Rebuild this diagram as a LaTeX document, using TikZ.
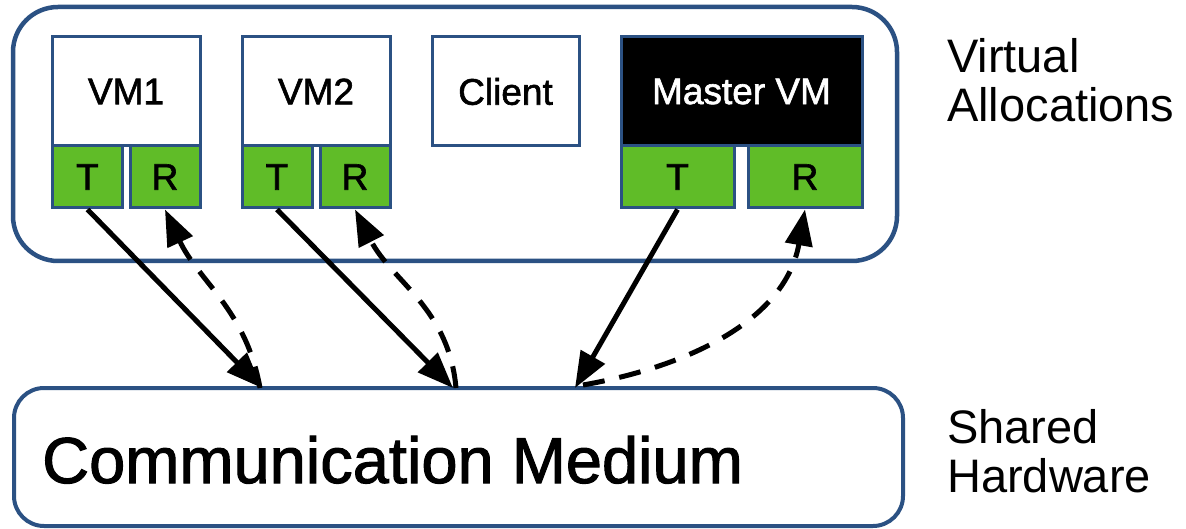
\documentclass[tikz,border=0pt]{standalone}
\usepackage{fontspec}
\setmainfont{Liberation Sans}
\newfontfamily\boxfont[FakeBold=1.6]{Liberation Sans}
\usetikzlibrary{arrows.meta}
\definecolor{frameblue}{HTML}{2B5183}
\definecolor{portgreen}{HTML}{60BC28}
\tikzset{
  box/.style={draw=frameblue, line width=3pt, inner sep=0pt,
    font=\boxfont\fontsize{37}{40}\selectfont},
  vmbox/.style={box, fill=white, minimum width=148pt, minimum height=109pt},
  portbox/.style={box, fill=portgreen, minimum height=62pt},
  group/.style={draw=frameblue, line width=4.5pt, rounded corners=45pt},
  solidarrow/.style={line width=5pt, -{Triangle[length=36pt,width=27pt]}},
  dasharrow/.style={line width=5pt, dash pattern=on 22pt off 15pt,
    -{Triangle[length=36pt,width=27pt]}},
  sidelabel/.style={anchor=base west, inner sep=0pt, align=left,
    font=\fontsize{47}{49}\selectfont}
}
\begin{document}
\begin{tikzpicture}[x=1pt,y=1pt]
\useasboundingbox (0,0) rectangle (1186,528);

% virtual allocations frame
\node[group, minimum width=884pt, minimum height=254pt] (alloc) at (455,394) {};

% VM1
\node[vmbox] (vm1) at (126,436.5) {VM1};
\node[portbox, minimum width=70pt] (vm1t) at (87.5,351) {T};
\node[portbox, minimum width=70pt] (vm1r) at (165,351) {R};

% VM2
\node[vmbox] (vm2) at (316,436.5) {VM2};
\node[portbox, minimum width=70pt] (vm2t) at (277,351) {T};
\node[portbox, minimum width=70pt] (vm2r) at (355,351) {R};

% client
\node[vmbox, minimum width=147pt] (client) at (505.5,436.5) {Client};

% master VM
\node[vmbox, fill=black, text=white, minimum width=241pt] (master) at (741.5,436.5) {Master VM};
\node[portbox, minimum width=113pt] (mt) at (677.5,351) {T};
\node[portbox, minimum width=114pt] (mr) at (805,351) {R};

% shared communication medium
\node[draw=frameblue, line width=4pt, rounded corners=30pt,
      minimum width=889pt, minimum height=138pt] (medium) at (458.5,71) {};
\node[anchor=base west, inner sep=0pt, font=\boxfont\fontsize{65}{70}\selectfont]
  (medtext) at (42,45) {Communication Medium};

% attachment points on the medium
\coordinate (in1) at (262,140);
\coordinate (out1) at (260,140);
\coordinate (in2) at (453,140);
\coordinate (out2) at (456,140);
\coordinate (in3) at (575,140);
\coordinate (out3) at (583,143);

% transmit paths
\draw[solidarrow] (vm1t.south) -- (in1);
\draw[solidarrow] (vm2t.south) -- (in2);
\draw[solidarrow] (mt.south) -- (in3);

% receive paths
\draw[dasharrow] (out1) to[out=100,in=-65] (vm1r.south);
\draw[dasharrow] (out2) to[out=95,in=-63] (vm2r.south);
\draw[dasharrow] (out3) to[out=10,in=-100] (mr.south);

% side labels (anchored at the baseline of the lower line)
\node[sidelabel] (lblvirt) at (947,406) {Virtual\\Allocations};
\node[sidelabel] (lblhw) at (947,36) {Shared\\Hardware};
\end{tikzpicture}
\end{document}
